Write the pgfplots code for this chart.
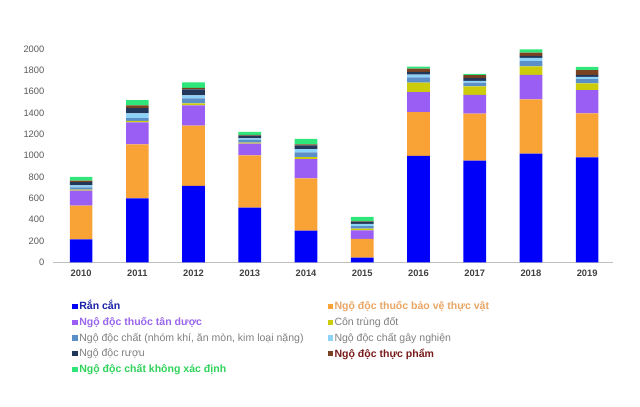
\documentclass[border=0pt]{standalone}
\usepackage{pgfplots}
\usepackage{pgfplotstable}
\pgfplotsset{compat=1.18}
\usepackage{fontspec}
\setmainfont{Liberation Sans}
\definecolor{cRan}{HTML}{0000FA}
\definecolor{cBvtv}{HTML}{F9A236}
\definecolor{cTan}{HTML}{9B5EF5}
\definecolor{cCon}{HTML}{CCCC0A}
\definecolor{cChat}{HTML}{5A8FC8}
\definecolor{cGay}{HTML}{8DD3F7}
\definecolor{cRuou}{HTML}{22385A}
\definecolor{cTp}{HTML}{7A4220}
\definecolor{cKxd}{HTML}{2EE67A}
\definecolor{tRan}{HTML}{1A22A8}
\definecolor{tBvtv}{HTML}{E9A565}
\definecolor{tTan}{HTML}{9A66EE}
\definecolor{tGrey}{HTML}{808080}
\definecolor{tTp}{HTML}{7A1C1C}
\definecolor{tKxd}{HTML}{2FD35A}
\pgfplotstableread{
x ran bvtv tan con chat gay ruou tp kxd
0 215 316 141 10 20 20 30 15 35
1 600 506 205 15 25 45 50 25 50
2 716 565 190 20 45 30 55 15 50
3 512 491 110 10 25 15 25 8 26
4 297 490 180 20 45 30 35 10 50
5 44 175 81 15 25 20 20 5 40
6 997 412 186 90 50 25 25 30 20
7 953 440 177 80 35 15 30 25 12
8 1019 509 230 78 50 30 20 30 30
9 983 414 218 62 40 22 18 45 30
}\data
\newcommand{\legent}[2]{\makebox[185pt][l]{\textcolor{#1}{#2}}}
\begin{document}
\begin{tikzpicture}[x=1pt,y=1pt]
\path[use as bounding box] (0,0) rectangle (480,305.25);
\begin{axis}[
  at={(39.75pt,108.5pt)}, anchor=south west,
  scale only axis, width=420pt, height=160pt,
  ybar stacked, bar width=17pt,
  xmin=-0.5, xmax=9.46, ymin=0, ymax=2000,
  xtick={0,...,9}, xticklabels={2010,2011,2012,2013,2014,2015,2016,2017,2018,2019},
  ytick={0,200,...,2000},
  axis x line=bottom, axis y line=left,
  x axis line style={draw=black!25, line width=0.8pt, -},
  y axis line style={draw=none},
  major tick length=0pt,
  /pgf/number format/assume math mode=true,
  /pgf/number format/1000 sep={},
  yticklabel style={font=\fontsize{7}{8}\selectfont, text=black!65, xshift=-3pt},
  xticklabel style={font=\fontsize{7}{8}\selectfont\bfseries, text=black!75, yshift=-2pt},
  every axis plot/.append style={draw=none},
  legend columns=2,
  legend cell align=left,
  legend style={at={(axis description cs:0.027,-0.158)}, anchor=north west, draw=none,
    font=\fontsize{7.9}{9}\selectfont, row sep=1.7pt,
    nodes={inner sep=1.2pt}},
  legend image code/.code={\fill[#1] (0pt,-2pt) rectangle (4pt,2pt);},
]
\addplot[fill=cRan] table[x=x,y=ran]{\data};
\addplot[fill=cBvtv] table[x=x,y=bvtv]{\data};
\addplot[fill=cTan] table[x=x,y=tan]{\data};
\addplot[fill=cCon] table[x=x,y=con]{\data};
\addplot[fill=cChat] table[x=x,y=chat]{\data};
\addplot[fill=cGay] table[x=x,y=gay]{\data};
\addplot[fill=cRuou] table[x=x,y=ruou]{\data};
\addplot[fill=cTp] table[x=x,y=tp]{\data};
\addplot[fill=cKxd] table[x=x,y=kxd]{\data};
\legend{
  \legent{tRan}{\bfseries Rắn cắn},
  \legent{tBvtv}{\bfseries Ngộ độc thuốc bảo vệ thực vật},
  \legent{tTan}{\bfseries Ngộ độc thuốc tân dược},
  \legent{tGrey}{Côn trùng đốt},
  \legent{tGrey}{Ngộ độc chất (nhóm khí, ăn mòn, kim loại nặng)},
  \legent{tGrey}{Ngộ độc chất gây nghiện},
  \legent{tGrey}{Ngộ độc rượu},
  \legent{tTp}{\bfseries Ngộ độc thực phẩm},
  \legent{tKxd}{\bfseries Ngộ độc chất không xác định}}
\end{axis}
\end{tikzpicture}
\end{document}
